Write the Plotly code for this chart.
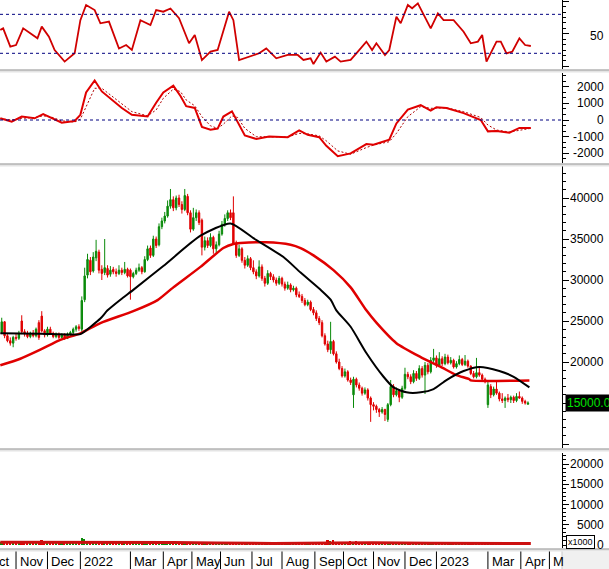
import plotly.graph_objects as go

W, H = 609, 569
AX_PX = 562  # x pixel of the right-hand value axis

# ---------------- data ----------------
# x = trading-day index (0 = first session of Nov 2021); candles every 2nd session
candle_idx = list(range(-10, 359, 2))
opens = [23600,24900,23200,22600,22300,23000,22900,25000,23700,23400,
         23100,23500,23200,24800,25600,23800,23300,24000,23500,23100,
         23400,23000,23300,22900,23400,23600,24000,24300,24000,27600,
         30600,32400,31100,32700,33400,31300,30900,31400,30700,31300,
         31000,30800,31200,30900,31300,31200,30400,30800,31200,31500,
         31000,32500,33900,33000,35000,34300,36500,37200,37800,39000,
         39800,38800,40000,39200,38600,40200,38200,36200,37600,38200,
         37300,34000,34800,34200,35200,33800,34300,35600,36800,37500,
         38200,38200,34500,33000,33800,32400,31800,32600,31500,31000,
         30500,31600,30200,29600,30800,30400,30000,29600,30200,29500,
         29000,29400,28800,29000,28200,28000,27500,27000,27300,26400,
         26000,25300,24800,23200,22200,21500,22500,21000,20000,19200,
         18300,18800,17800,16000,17900,17200,16800,16200,16600,15600,
         14800,14600,14200,13900,14200,13000,14800,17000,16000,16500,
         15700,16800,18500,18200,17600,18600,18000,19200,18400,19600,
         18800,20200,20500,19600,20400,19800,20600,19900,20200,19400,
         19800,20300,19700,20100,19500,18600,18200,18700,18400,17900,
         14800,17000,16000,16700,16200,15500,15300,15600,15400,15700,
         15300,15800,15600,15200,14850]
highs = [25400,25000,23400,23000,23200,23500,23800,25700,24000,23800,
         23700,23900,24200,25100,26200,24000,24300,24300,23700,23600,
         23600,23500,23500,23600,23800,24200,24500,24600,28000,31500,
         33200,32800,33400,34900,33700,31800,35000,31800,31700,31600,
         31400,31800,31500,32200,31500,31400,31000,31500,32000,31700,
         32900,34200,34200,35400,35300,36900,37600,38300,39700,41100,
         40200,40300,40400,39600,41100,40500,38500,38800,38600,38500,
         37500,35300,35200,35700,35400,34700,36000,37200,38000,38500,
         38600,40200,34800,34300,34000,32800,33000,32800,32400,31300,
         32400,31900,30500,31200,31000,30700,30300,30500,30400,29800,
         29800,29600,29300,29200,28600,28300,27800,27600,27500,26700,
         26300,25600,25100,23500,22600,24900,22700,21300,20400,19500,
         19200,19000,18100,18200,18100,17500,17000,16900,16800,15800,
         15100,14800,14400,14500,14300,15000,17800,17300,16900,16700,
         17100,19300,18800,18500,19000,18900,19600,19500,20000,19900,
         20600,21600,20800,21200,20700,21000,20900,20600,20400,20100,
         20800,20500,20850,20300,19600,18900,20500,19300,18600,18100,
         17800,17300,17000,17600,16400,16200,15800,16100,15900,15900,
         16200,16400,15800,15400,15200]
lows = [23400,22900,22400,22000,21800,22600,22700,23400,23100,22900,
        22900,23000,23000,22700,23600,23000,23100,23300,22900,22900,
        22800,22900,22700,22800,23100,23400,23700,23800,23700,27300,
        30200,30600,30900,32300,30800,30000,30600,30300,30400,30700,
        30400,30600,30600,30700,30300,27600,30200,30600,31000,30700,
        30900,32300,32700,32800,33900,34100,36200,36900,37600,38700,
        38400,38500,38900,38100,38400,37900,35800,36000,37200,36700,
        33000,33600,33900,34000,33200,33300,34100,35400,36500,37200,
        37300,34300,32700,32800,32100,31400,31600,31200,30700,30100,
        30300,29900,29200,29400,30000,29700,29300,29400,29200,28700,
        28800,28500,28600,27900,27800,27200,26800,26800,26200,25700,
        25000,24500,23000,22000,21200,21000,20800,19800,19000,18100,
        18100,17600,17200,14400,16900,16500,15900,16000,15300,12700,
        14100,13800,13300,13700,12800,12700,14600,15700,15800,15100,
        15500,16600,17900,17300,17400,17700,17800,18100,16100,18500,
        18600,19900,19300,19400,19500,19600,19700,19700,19200,19200,
        19600,19500,19500,19300,18400,18000,18000,18200,17700,17400,
        14400,15600,15800,16000,15200,15000,14400,15100,15000,15000,
        15100,15500,14900,14800,14800]
closes = [24900,23200,22600,22300,23000,22900,23500,23700,23400,23100,
          23500,23200,24000,23000,23800,23300,24000,23500,23100,23400,
          23000,23300,22900,23400,23600,24000,24300,24100,27500,30500,
          32500,31000,32800,33500,31200,30800,31500,30600,31200,31000,
          30800,31200,30900,31300,30500,30400,30800,31200,31500,31000,
          32500,33800,33000,35000,34200,36500,37200,37800,39000,39800,
          38800,40000,39200,38600,40300,38200,36200,37600,38200,37000,
          34000,34800,34200,35200,33800,34300,35600,36800,37500,38200,
          37600,34500,33000,33800,32400,31800,32600,31500,31000,30500,
          31600,30200,29600,30800,30400,30000,29600,30200,29500,29000,
          29400,28800,29000,28200,28000,27500,27000,27300,26400,26000,
          25300,24800,23200,22200,21500,22500,21000,20000,19200,18300,
          18800,17800,17500,17900,17200,16800,16200,16600,15600,14800,
          14600,14200,13900,14200,13600,14800,17000,16000,16500,15700,
          16800,18500,18200,17600,18600,18000,19200,18400,19600,18800,
          20200,20500,19600,20400,19800,20600,19900,20200,19400,19800,
          20300,19700,20100,19500,18600,18200,18700,18400,17900,17600,
          17200,16000,16700,16200,15500,15300,15600,15400,15700,15300,
          15800,15600,15200,15000,15000]
volume = [700,900,500,600,800,400,500,1100,600,500,
          700,400,600,1000,1200,700,900,500,400,600,
          400,500,400,700,600,800,900,700,1700,1400,
          1100,900,800,1000,900,600,800,500,400,500,
          400,300,500,400,500,600,400,500,400,500,
          600,500,600,500,700,800,700,900,800,700,
          600,700,800,600,500,700,500,400,500,600,
          400,300,400,300,400,300,400,300,400,300,
          400,600,400,300,300,400,300,300,400,300,
          500,300,300,400,300,300,300,400,300,300,
          300,300,400,300,300,300,300,400,300,300,
          300,400,500,600,1300,900,1200,700,600,500,
          800,700,900,800,900,600,700,600,800,500,
          600,500,400,400,500,600,500,400,500,400,
          400,500,400,500,400,400,300,400,300,400,
          300,400,700,400,300,300,400,300,300,400,
          300,300,300,300,400,300,300,500,400,300,
          600,400,300,400,300,300,400,300,300,300,
          400,300,300,300,300]  # x1000

ma_black_idx = [-11, 17, 45, 47, 59, 64, 73, 82, 103, 129, 150, 166, 187, 199, 213, 220, 224,
                234, 245, 257, 264, 273, 283, 292, 301, 313, 324, 338, 348, 359]
ma_black = [23500, 23450, 23400, 23600, 25300, 26300, 27600, 28800, 31700, 35400, 36900, 35100,
            32800, 30900, 28800, 27600, 26300, 24300, 21100, 18200, 16900, 16300, 16300, 16700,
            17800, 18900, 19400, 18900, 18200, 16900]
ma_red_idx = [-11, 3, 17, 31, 45, 59, 82, 99, 110, 129, 145, 152, 157, 175, 192, 199, 208, 222,
              234, 245, 252, 266, 283, 297, 308, 317, 318, 359]
ma_red = [19600, 20400, 21500, 22700, 23500, 24750, 26200, 27550, 29100, 31600, 33900, 34400,
          34500, 34600, 34300, 33900, 33000, 31200, 29100, 26300, 24800, 22300, 20600, 19400,
          18400, 17900, 17750, 17750]

rsi_idx = [-11, -9, -4, 0, 5, 10, 15, 18, 23, 27, 34, 41, 45, 49, 55, 59, 65, 72, 77, 81, 87,
           94, 98, 103, 108, 114, 121, 125, 130, 136, 141, 149, 152, 156, 163, 170, 175, 182,
           190, 197, 201, 206, 208, 213, 217, 223, 227, 234, 238, 245, 249, 252, 258, 261, 266,
           269, 274, 277, 281, 285, 290, 295, 299, 306, 313, 318, 323, 326, 329, 336, 339, 343,
           347, 352, 356, 360]
rsi_val = [54, 55.6, 36.8, 38.5, 55.6, 50.5, 45.4, 57.4, 47, 33.4, 21.5, 30, 64, 79.6, 74.4, 60.8,
           62.5, 35, 38.5, 33.4, 64, 59, 74.4, 72.7, 76, 66, 40.3, 48.8, 23, 31.7, 33.4, 72.7, 64,
           23, 26.5, 30, 35, 24.9, 28.3, 28.3, 23.2, 24.9, 19, 30.7, 21.5, 26.6, 21.5, 23.2, 30,
           42, 33.4, 40.3, 28.3, 33.4, 67.6, 60.8, 79.6, 76.2, 81.3, 69.3, 55.6, 71, 64, 64, 52.2,
           40.3, 42, 48.8, 21.5, 42, 42, 30, 31.7, 45.4, 38.5, 37.5]
rsi_levels = [70, 30]

macd_idx = [-11, -3, 4, 13, 19, 24, 32, 41, 45, 49, 55, 60, 68, 74, 81, 92, 98, 103, 110, 115, 119,
            125, 130, 136, 141, 145, 151, 155, 160, 168, 177, 190, 198, 204, 212, 217, 225, 234,
            245, 250, 261, 266, 274, 283, 290, 294, 301, 313, 325, 330, 336, 345, 352, 360]
macd_val = [103, -103, 206, 103, 350, 144, -165, -62, 309, 1650, 2371, 1711, 1134, 722, 309, 206,
            1031, 1650, 2062, 1443, 825, 722, -412, -577, -515, 206, 515, -103, -928, -1134, -990,
            -1031, -619, -887, -1031, -1546, -2165, -2000, -1443, -1485, -1175, -206, 619, 887,
            557, 763, 722, 412, 0, -680, -660, -763, -474, -474]
signal_val = [80, 0, 100, 150, 250, 200, -50, -120, 50, 800, 1900, 1900, 1350, 950, 500, 250, 600,
              1300, 1850, 1700, 1200, 850, 200, -350, -500, -250, 250, 150, -500, -1000, -1020,
              -1020, -800, -830, -950, -1250, -1850, -2050, -1650, -1500, -1300, -800, 200, 800,
              700, 700, 730, 500, 150, -300, -600, -720, -600, -500]

volma_idx = [-11, 20, 50, 80, 110, 140, 180, 220, 250, 290, 330, 360]
volma_val = [650, 650, 700, 600, 600, 500, 400, 500, 550, 420, 380, 360]

month_idx = [0, 22, 45, 80, 103, 123, 143, 165, 186, 209, 229, 250, 272, 294, 330, 353, 373]
month_lbl = ["Nov", "Dec", "2022", "Mar", "Apr", "May", "Jun", "Jul", "Aug", "Sep", "Oct",
             "Nov", "Dec", "2023", "Mar", "Apr", "M"]
first_lbl = "Oct"  # partly hidden at the left edge

rsi_ticks = [50]
macd_ticks = [2000, 1000, 0, -1000, -2000]
price_ticks = [40000, 35000, 30000, 25000, 20000]
vol_ticks = [20000, 15000, 10000, 5000, 0]
last_price = 15000

# ---------------- layout helpers ----------------
def fy(px):
    return 1 - px / H

def fx(px):
    return px / W

FONT = "Liberation Sans, Arial, sans-serif"
GREEN = "#0a8a0a"
RED = "#e00000"

fig = go.Figure()

# RSI
fig.add_trace(go.Scatter(x=rsi_idx, y=rsi_val, mode="lines", yaxis="y",
                         line=dict(color="#d00000", width=1.8)))
# MACD
fig.add_trace(go.Scatter(x=macd_idx, y=signal_val, mode="lines", yaxis="y2",
                         line=dict(color="#b00000", width=1, dash="2px,2px")))
fig.add_trace(go.Scatter(x=macd_idx, y=macd_val, mode="lines", yaxis="y2",
                         line=dict(color=RED, width=2)))
# price
fig.add_trace(go.Candlestick(x=candle_idx, open=opens, high=highs, low=lows, close=closes,
                             yaxis="y3", whiskerwidth=0,
                             increasing=dict(line=dict(color=GREEN, width=1), fillcolor=GREEN),
                             decreasing=dict(line=dict(color=RED, width=1), fillcolor=RED)))
fig.add_trace(go.Scatter(x=ma_red_idx, y=ma_red, mode="lines", yaxis="y3",
                         line=dict(color=RED, width=2.5, shape="spline", smoothing=0.6)))
fig.add_trace(go.Scatter(x=ma_black_idx, y=ma_black, mode="lines", yaxis="y3",
                         line=dict(color="#000000", width=2, shape="spline", smoothing=0.6)))
# volume
vol_colors = [GREEN if c >= o else RED for o, c in zip(opens, closes)]
fig.add_trace(go.Bar(x=candle_idx, y=volume, yaxis="y4", width=1.1,
                     marker=dict(color=vol_colors, line=dict(width=0))))
fig.add_trace(go.Scatter(x=volma_idx, y=volma_val, mode="lines", yaxis="y4",
                         line=dict(color="#cc1010", width=3)))

xr = [-11.2, 381.8]
yax_common = dict(side="right", anchor="x", showgrid=False, zeroline=False,
                  showline=True, linecolor="#000", linewidth=1,
                  ticks="outside", ticklen=6, tickwidth=1, tickcolor="#000",
                  showticklabels=False, fixedrange=True)

layout = dict(
    width=W, height=H, margin=dict(l=0, r=0, t=0, b=0),
    paper_bgcolor="white", plot_bgcolor="white", showlegend=False,
    bargap=0,
    xaxis=dict(domain=[0, fx(AX_PX)], range=xr, visible=False, anchor="y4",
               rangeslider=dict(visible=False), fixedrange=True),
    yaxis=dict(domain=[fy(69), fy(0)], range=[13.9, 84.7], tickmode="array",
               tickvals=[16.6, 50, 83.4],
               minor=dict(ticks="outside", ticklen=3, tick0=50, dtick=33.4 / 6, tickcolor="#000"),
               **yax_common),
    yaxis2=dict(domain=[fy(163), fy(73)], range=[-2575, 2815], tickmode="array",
                tickvals=macd_ticks,
                minor=dict(ticks="outside", ticklen=3, tick0=0, dtick=1000 / 3, tickcolor="#000"),
                **yax_common),
    yaxis3=dict(domain=[fy(448), fy(166)], range=[9512, 43902], tickmode="array",
                tickvals=price_ticks + [15000, 10000],
                minor=dict(ticks="outside", ticklen=3, dtick=1000, tickcolor="#000"),
                **yax_common),
    yaxis4=dict(domain=[fy(548), fy(453)], range=[-740, 22716], tickmode="array",
                tickvals=vol_ticks,
                minor=dict(ticks="outside", ticklen=3, dtick=1000, tickcolor="#000"),
                **yax_common),
)
fig.update_layout(**layout)

shapes = []
ann = []
# reference dashed lines
for lv in rsi_levels:
    shapes.append(dict(type="line", xref="paper", yref="y", x0=0, x1=fx(AX_PX), y0=lv, y1=lv,
                       line=dict(color="#000080", width=1, dash="3px,3px")))
shapes.append(dict(type="line", xref="paper", yref="y2", x0=0, x1=fx(AX_PX), y0=0, y1=0,
                   line=dict(color="#000080", width=1, dash="3px,3px")))
# panel separators
for top in [69.5, 163.5, 448.5, 548.5]:
    shapes.append(dict(type="rect", xref="paper", yref="paper", x0=0, x1=1,
                       y0=fy(top + 3), y1=fy(top), fillcolor="#e4e4e4", line=dict(width=0), layer="above"))
    shapes.append(dict(type="line", xref="paper", yref="paper", x0=0, x1=1,
                       y0=fy(top + 0.5), y1=fy(top + 0.5), line=dict(color="#9a9a9a", width=1), layer="above"))
# date row
shapes.append(dict(type="rect", xref="paper", yref="paper", x0=fx(AX_PX), x1=1,
                   y0=0, y1=fy(551.5), fillcolor="#f0f0f0", line=dict(width=0), layer="above"))
for mi in month_idx:
    shapes.append(dict(type="line", xref="x", yref="paper", x0=mi, x1=mi, y0=0, y1=fy(551.5),
                       line=dict(color="#000", width=1), layer="above"))
shapes.append(dict(type="line", xref="paper", yref="paper", x0=fx(AX_PX), x1=fx(AX_PX), y0=0, y1=fy(551.5),
                   line=dict(color="#c8c8c8", width=1), layer="above"))

for mi, lb in zip(month_idx, month_lbl):
    ann.append(dict(x=mi + 1.2, xref="x", y=fy(561), yref="paper", text=lb, showarrow=False,
                    xanchor="left", yanchor="middle", font=dict(family=FONT, size=13, color="#000")))
ann.append(dict(x=-2.6, xref="x", y=fy(561), yref="paper", text=first_lbl, showarrow=False,
                xanchor="right", yanchor="middle", font=dict(family=FONT, size=13, color="#000")))

def axis_label(v, yref, text, yshift=0):
    return dict(x=fx(606), xref="paper", y=v, yref=yref, text=text, showarrow=False,
                xanchor="right", yanchor="middle", yshift=yshift,
                font=dict(family=FONT, size=12, color="#000"))

for v in rsi_ticks:
    ann.append(axis_label(v, "y", str(v), yshift=-2))
for v in macd_ticks:
    ann.append(axis_label(v, "y2", str(v)))
for v in price_ticks:
    ann.append(axis_label(v, "y3", str(v)))
for v in vol_ticks:
    ann.append(axis_label(v, "y4", str(v)))

ann.append(dict(x=fx(565), xref="paper", y=last_price, yref="y3", text="%.2f" % last_price,
                showarrow=False, xanchor="left", yanchor="middle", bgcolor="#000",
                borderpad=1, font=dict(family=FONT, size=12, color="#00e000")))
ann.append(dict(x=fx(566), xref="paper", y=fy(542), yref="paper", text="x1000", showarrow=False,
                xanchor="left", yanchor="middle", bordercolor="#000", borderwidth=1, borderpad=1,
                bgcolor="white", font=dict(family=FONT, size=9, color="#000")))

fig.update_layout(shapes=shapes, annotations=ann)
fig.write_html("out.html")
